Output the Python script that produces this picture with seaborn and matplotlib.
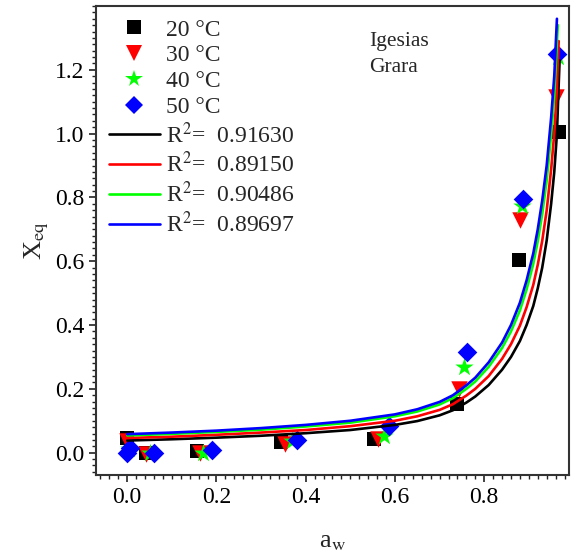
import matplotlib
matplotlib.use("Agg")
import matplotlib.pyplot as plt
from matplotlib.ticker import MultipleLocator
from matplotlib.lines import Line2D
import seaborn as sns
import pandas as pd

# measured points (aw, Xeq) per temperature
aw_20 = [0.0, 0.041, 0.157, 0.345, 0.554, 0.740, 0.878, 0.967]
x_20 = [0.045, 0.0, 0.004, 0.032, 0.043, 0.153, 0.605, 1.005]
aw_30 = [0.0, 0.043, 0.164, 0.354, 0.563, 0.744, 0.881, 0.962]
x_30 = [0.035, -0.005, 0.0, 0.028, 0.044, 0.198, 0.730, 1.115]
aw_40 = [0.005, 0.050, 0.170, 0.370, 0.576, 0.754, 0.884, 0.965]
x_40 = [0.010, 0.0, 0.0, 0.035, 0.051, 0.267, 0.774, 1.240]
aw_50 = [0.0, 0.007, 0.061, 0.190, 0.380, 0.587, 0.761, 0.887, 0.963]
x_50 = [0.0, 0.015, 0.0, 0.007, 0.039, 0.085, 0.316, 0.796, 1.251]

# fitted curves
aw_fit = [0.0, 0.1, 0.2, 0.3, 0.4, 0.5, 0.6, 0.65, 0.7, 0.73, 0.76, 0.78, 0.81, 0.84,
          0.86, 0.88, 0.895, 0.91, 0.92, 0.93, 0.94, 0.95, 0.957, 0.963]
fit_20 = [0.038, 0.042, 0.047, 0.053, 0.061, 0.071, 0.087, 0.099, 0.117, 0.133, 0.157, 0.176,
          0.212, 0.260, 0.300, 0.350, 0.400, 0.460, 0.515, 0.580, 0.665, 0.780, 0.880, 1.000]
fit_30 = [0.046, 0.050, 0.056, 0.063, 0.071, 0.083, 0.100, 0.114, 0.134, 0.152, 0.179, 0.200,
          0.240, 0.294, 0.340, 0.398, 0.456, 0.526, 0.589, 0.664, 0.759, 0.888, 1.000, 1.144]
fit_40 = [0.054, 0.059, 0.065, 0.072, 0.082, 0.094, 0.114, 0.129, 0.151, 0.171, 0.200, 0.223,
          0.269, 0.328, 0.380, 0.446, 0.512, 0.592, 0.663, 0.748, 0.853, 0.996, 1.120, 1.288]
fit_50 = [0.058, 0.063, 0.069, 0.077, 0.087, 0.100, 0.120, 0.136, 0.159, 0.180, 0.211, 0.235,
          0.283, 0.345, 0.400, 0.470, 0.540, 0.625, 0.700, 0.790, 0.900, 1.050, 1.180, 1.360]
# upper ends of the curves
tail_aw = [[0.966, 0.969], [0.965, 0.967], [0.965], []]
tail_x = [[1.120, 1.230], [1.230, 1.290], [1.340], []]

temps = ['20 °C', '30 °C', '40 °C', '50 °C']
r2 = ['0.91630', '0.89150', '0.90486', '0.89697']
colors = ['#000000', '#ff0000', '#00ff00', '#0000ff']
markers = ['s', 'v', '*', 'D']
msizes = [95, 140, 190, 100]

sns.set_style("ticks")
plt.rcParams['font.family'] = ['Liberation Serif', 'DejaVu Serif']
plt.rcParams['mathtext.fontset'] = 'stix'

fig = plt.figure(figsize=(5.73, 5.56), dpi=100)
ax = fig.add_axes([0.1675, 0.1457, 0.8255, 0.8435])

points = [(aw_20, x_20), (aw_30, x_30), (aw_40, x_40), (aw_50, x_50)]
fits = [fit_20, fit_30, fit_40, fit_50]

for i, (a, x) in enumerate(points):
    df = pd.DataFrame({'aw': a, 'X': x})
    sns.scatterplot(data=df, x='aw', y='X', ax=ax, color=colors[i], marker=markers[i],
                    s=msizes[i], linewidth=0, zorder=2)

for i, f in enumerate(fits):
    df = pd.DataFrame({'aw': aw_fit + tail_aw[i], 'X': f + tail_x[i]})
    sns.lineplot(data=df, x='aw', y='X', ax=ax, color=colors[i], linewidth=1.9,
                 zorder=3, sort=False)

ax.set_xlim(-0.07, 0.99)
ax.set_ylim(-0.07, 1.40)
ax.xaxis.set_minor_locator(MultipleLocator(0.02))
ax.yaxis.set_minor_locator(MultipleLocator(0.02))
ax.set_xticks([0.0, 0.2, 0.4, 0.6, 0.8])
ax.set_xticklabels(['0.0', '0.2', '0.4', '0.6', '0.8'])
ax.set_yticks([0.0, 0.2, 0.4, 0.6, 0.8, 1.0, 1.2])
ax.set_yticklabels(['0.0', '0.2', '0.4', '0.6', '0.8', '1.0', '1.2'])
ax.tick_params(which='major', direction='out', length=5, width=1.2, labelsize=17,
               colors='#222222', labelcolor='black')
ax.tick_params(which='minor', direction='out', length=3, width=1.0, colors='#222222')
for s in ax.spines.values():
    s.set_visible(True)
    s.set_linewidth(1.5)
    s.set_color('#333333')

ax.set_xlabel('a$_{\\mathrm{w}}$', fontsize=19, labelpad=17)
ax.set_ylabel('X$_{\\mathrm{eq}}$', fontsize=19, labelpad=3)

ax.text(0.578, 0.945, 'Igesias\nGrara', transform=ax.transAxes, fontsize=15.5,
        va='top', ha='left', linespacing=1.55)

handles = []
labels = []
for i in range(4):
    handles.append(Line2D([], [], color=colors[i], marker=markers[i], linestyle='none',
                          markersize=[9.5, 11, 13, 9.5][i], markeredgewidth=0))
    labels.append(temps[i])
for i in range(4):
    handles.append(Line2D([], [], color=colors[i], linewidth=1.9))
    labels.append('R$^2$=  ' + r2[i])
ax.legend(handles, labels, loc='upper left', frameon=False, fontsize=17,
          handlelength=2.15, handletextpad=0.25, labelspacing=0.18,
          borderaxespad=0.15, bbox_to_anchor=(0.0, 1.0))

fig.savefig('out.png', dpi=100)
